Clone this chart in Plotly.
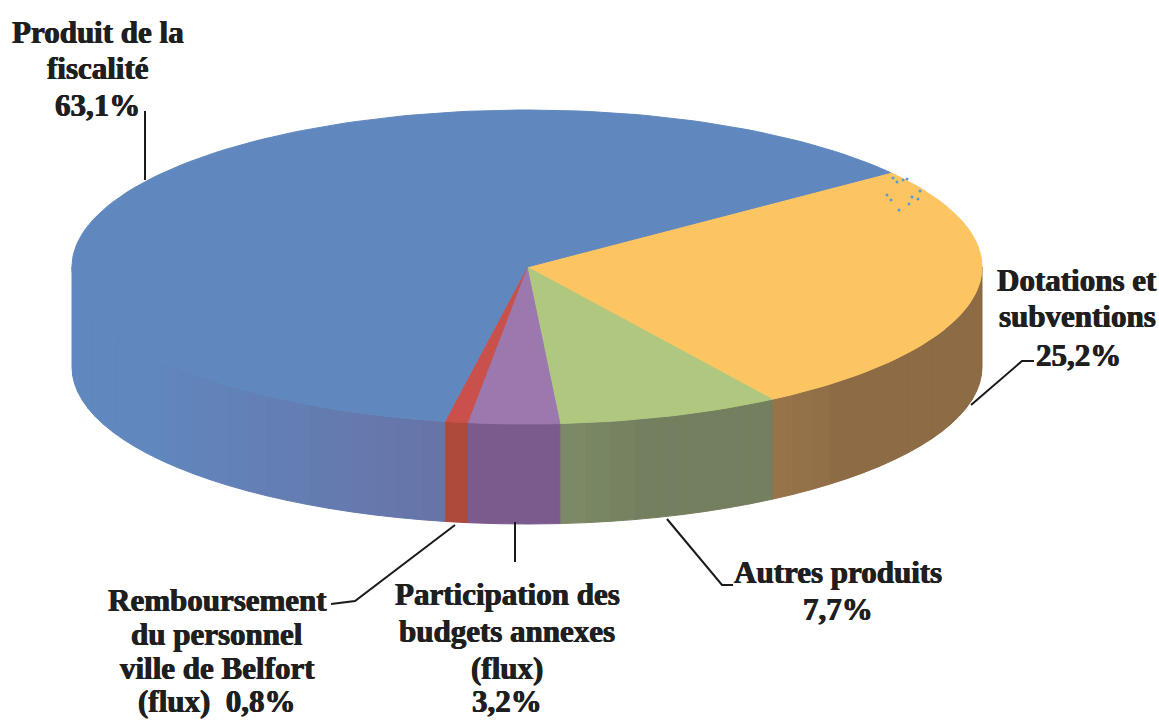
import math
import plotly.graph_objects as go

# ---- data ----
slice_names = ["Dotations et subventions", "Autres produits", "Participation des budgets annexes (flux)",
               "Remboursement du personnel ville de Belfort (flux)", "Produit de la fiscalité"]
slice_values = [25.2, 7.7, 3.2, 0.8, 63.1]
top_colors = ["#FDC562", "#B0C77F", "#9B78AD", "#C9504B", "#6088BF"]
side_colors = ["#8C6B45", "#737F5E", "#7B5A8E", "#AE4A3C", "#6874A8"]

label_lines = ["Produit de la", "fiscalité", "63,1%",
               "Dotations et", "subventions", "25,2%",
               "Autres produits", "7,7%",
               "Participation des", "budgets annexes", "(flux)", "3,2%",
               "Remboursement", "du personnel", "ville de Belfort", "(flux)  0,8%"]
label_x = [98, 98, 97, 1077, 1077, 1078, 838, 838, 507, 507, 507, 507, 217, 217, 217, 217]
label_y = [32, 68, 105, 280, 316, 355, 572, 609, 594, 631, 668, 701, 600, 634, 668, 701]

leader_x = [[145, 145], [971, 1022, 1034], [667, 722, 733], [515, 515], [455, 355, 331]]
leader_y = [[111, 180], [405, 361, 361], [519, 585, 585], [522, 562], [525, 601, 604]]

speckle_x = [887, 891, 899, 909, 912, 918, 920, 893, 897, 903, 907]
speckle_y = [195, 200, 210, 204, 197, 199, 191, 178, 182, 180, 179]

# ---- geometry ----
CX, CY, RX, RY, DEPTH = 527, 267, 455, 157, 100
START = 35.0


def warp(a):
    return a + 2.6 * math.cos(math.radians(a - 75))


def pt(t_deg, dy=0):
    t = math.radians(t_deg)
    return CX + RX * math.cos(t), CY - RY * math.sin(t) + dy


def shade(hex_color, f):
    r, g, b = int(hex_color[1:3], 16), int(hex_color[3:5], 16), int(hex_color[5:7], 16)
    return f"rgb({min(255, int(r * f))},{min(255, int(g * f))},{min(255, int(b * f))})"


def mix(c1, c2, w):
    a = [int(c1[i:i + 2], 16) for i in (1, 3, 5)]
    b = [int(c2[i:i + 2], 16) for i in (1, 3, 5)]
    return "rgb(" + ",".join(str(int(x + (y - x) * w)) for x, y in zip(a, b)) + ")"


fig = go.Figure()
total = sum(slice_values)
edges = [START]
for v in slice_values:
    edges.append(edges[-1] - v / total * 360)
edges = [warp(e) for e in edges]

for i, (a, b) in enumerate(zip(edges[:-1], edges[1:])):
    ranges = []
    for shift in (0, 360, -360):
        s, e = min(a + shift, 0), max(b + shift, -180)
        if s > e:
            ranges.append((s, e))
    for s, e in ranges:
        n = max(1, int((s - e) / 3))
        for k in range(n):
            t0 = s - (s - e) * k / n
            t1 = s - (s - e) * (k + 1) / n
            mid = (t0 + t1) / 2
            if i == 4:
                # blends into the top colour towards the far left
                c = mix(side_colors[4], "#6088BF", min(1, (-100 - mid) / 45))
            elif i == 0:
                c = shade(side_colors[0], 1 + 0.10 * min(1, max(0, (-45 - mid) / 13)))
            elif i == 1:
                c = shade(side_colors[1], 1 + 0.10 * max(0, (mid + 74) / -12))
            else:
                c = side_colors[i]
            pts = [pt(t0 + (t1 - t0) * j / 4) for j in range(5)]
            pts += [pt(t0 + (t1 - t0) * j / 4, DEPTH) for j in range(4, -1, -1)]
            fig.add_trace(go.Scatter(x=[p[0] for p in pts] + [pts[0][0]],
                                     y=[p[1] for p in pts] + [pts[0][1]],
                                     mode="lines", fill="toself", fillcolor=c,
                                     line=dict(color=c, width=1), hoverinfo="skip", showlegend=False))

for i, (a, b) in enumerate(zip(edges[:-1], edges[1:])):
    n = max(4, int((a - b) / 1.5))
    pts = [(CX, CY)] + [pt(a + (b - a) * j / n) for j in range(n + 1)] + [(CX, CY)]
    fig.add_trace(go.Scatter(x=[p[0] for p in pts], y=[p[1] for p in pts],
                             mode="lines", fill="toself", fillcolor=top_colors[i],
                             line=dict(color=top_colors[i], width=1),
                             name=slice_names[i], text=f"{slice_values[i]}%", hoverinfo="name+text",
                             showlegend=False))

fig.add_trace(go.Scatter(x=speckle_x, y=speckle_y, mode="markers",
                         marker=dict(color="#5B9BD5", size=3), hoverinfo="skip", showlegend=False))

for xs, ys in zip(leader_x, leader_y):
    fig.add_trace(go.Scatter(x=xs, y=ys, mode="lines", line=dict(color="#1a1a1a", width=2),
                             hoverinfo="skip", showlegend=False))

for txt, x, y in zip(label_lines, label_x, label_y):
    fig.add_annotation(x=x, y=y, text=f"<b>{txt}</b>", showarrow=False, xanchor="center", yanchor="middle",
                       font=dict(family="Liberation Serif", size=31, color="#1f1f1f",
                                 shadow="0.5px 0 0 #1f1f1f, -0.5px 0 0 #1f1f1f"))

fig.update_layout(width=1159, height=720, margin=dict(l=0, r=0, t=0, b=0), autosize=False,
                  paper_bgcolor="white", plot_bgcolor="white",
                  xaxis=dict(range=[0, 1159], visible=False, fixedrange=True),
                  yaxis=dict(range=[720, 0], visible=False, fixedrange=True))
fig.write_html("out.html", config={"displayModeBar": False}, include_plotlyjs=True,
               post_script="document.body.style.margin='0';document.documentElement.style.overflow='hidden';")
